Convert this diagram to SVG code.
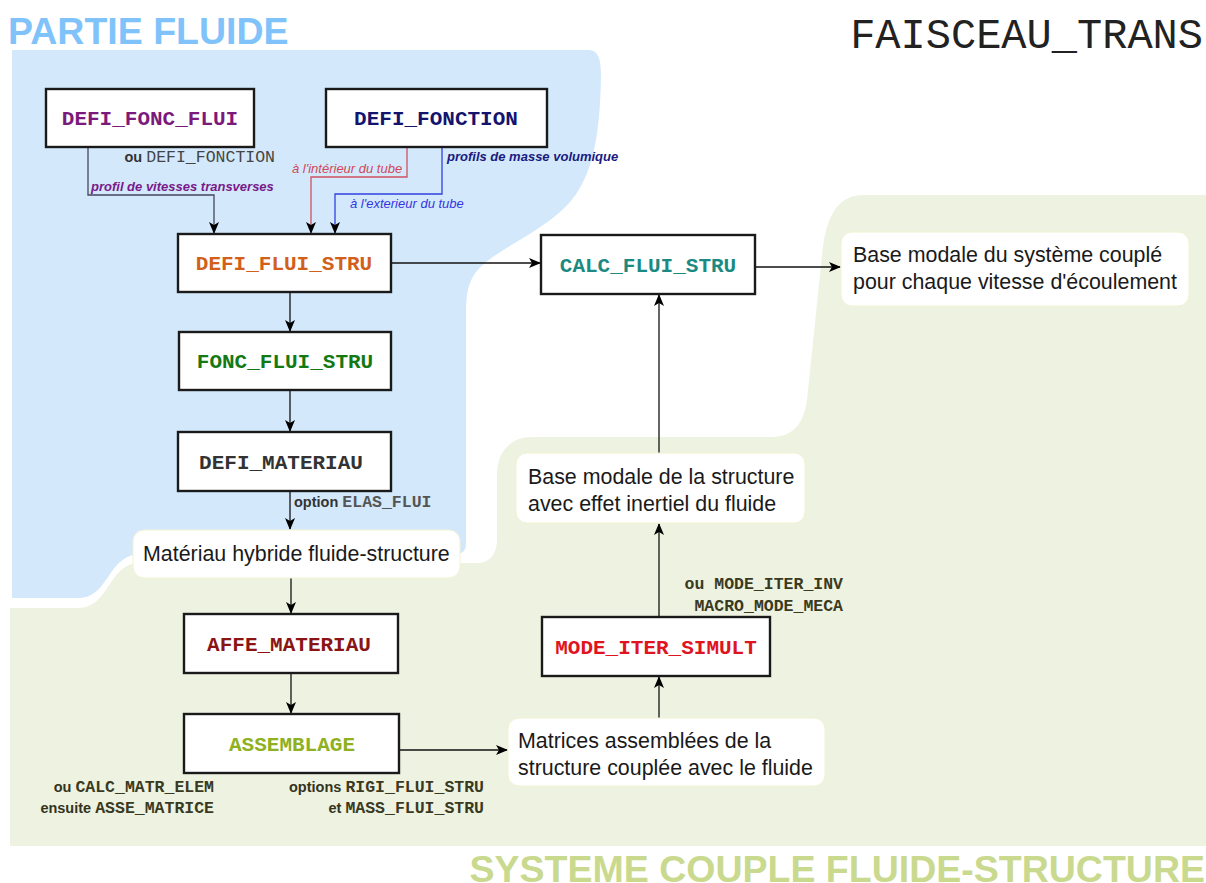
<svg xmlns="http://www.w3.org/2000/svg" width="1206" height="883" viewBox="0 0 1206 883">
  <defs>
    <marker id="arrow" viewBox="0 0 12 10" refX="11" refY="5" markerWidth="12" markerHeight="10" markerUnits="userSpaceOnUse" orient="auto">
      <path d="M0,0 L12,5 L0,10 L3,5 Z" fill="#000"/>
    </marker>
    <style>
      .box { fill: #fff; stroke: #1a1a1a; stroke-width: 2.4; }
      .note { fill: #fff; stroke: #f2f2d2; stroke-width: 1; }
      .cmd { font-family: "Liberation Mono", "Courier New", monospace; font-weight: bold; font-size: 21px; text-anchor: middle; }
      .txt { font-family: "Liberation Sans", Arial, sans-serif; font-size: 21.4px; fill: #1a1a1a; }
      .lbl { font-family: "Liberation Sans", Arial, sans-serif; font-weight: bold; font-size: 14.5px; }
      .mono { font-family: "Liberation Mono", "Courier New", monospace; font-size: 16.5px; }
      .it { font-family: "Liberation Sans", Arial, sans-serif; font-style: italic; font-size: 13px; }
      .wire { fill: none; stroke-width: 1.3; }
    </style>
  </defs>

  <rect width="1206" height="883" fill="#fff"/>

  <!-- regions -->
  <g id="zone-systeme">
    <path d="M10,608 L78,608 C110,608 108,563 140,563 L478,563 C490,563 497,553 497,540 L497,475 C497,452 510,437 532,437 L772,437 C794,437 804,422 807,400 L822,255 C826,218 836,195 864,195 L1206,195 L1206,846 L10,846 Z" fill="#eef2e1"/>
  </g>
  <g id="zone-fluide">
    <path d="M12,50 L588,50 C598,50 601,58 601,75 C600,140 592,185 560,212 C530,238 492,252 476,272 C468,283 466,295 466,312 L466,544 C466,551 462,554 455,554 L140,554 C106,556 110,598 78,598 L12,598 Z" fill="#d3e9fb"/>
  </g>

  <!-- titles -->
  <text x="8" y="44" font-family="Liberation Sans, Arial, sans-serif" font-weight="bold" font-size="37.5" fill="#7fc3fa">PARTIE FLUIDE</text>
  <text x="1203" y="48" font-family="Liberation Mono, Courier New, monospace" font-size="42" fill="#222" text-anchor="end">FAISCEAU_TRANS</text>
  <text x="1205" y="882" font-family="Liberation Sans, Arial, sans-serif" font-weight="bold" font-size="37.5" fill="#c9d98e" text-anchor="end">SYSTEME COUPLE FLUIDE-STRUCTURE</text>

  <!-- connectors -->
  <g id="connectors">
    <path class="wire" d="M88,147 V195 H214 V233" stroke="#45455a" marker-end="url(#arrow)"/>
    <path class="wire" d="M407,147 V177 H311 V233" stroke="#d05060" marker-end="url(#arrow)"/>
    <path class="wire" d="M442,147 V194 H335 V233" stroke="#3040e0" marker-end="url(#arrow)"/>
    <path class="wire" d="M391,263 H540" stroke="#111" marker-end="url(#arrow)"/>
    <path class="wire" d="M755,267 H840" stroke="#111" marker-end="url(#arrow)"/>
    <path class="wire" d="M290,292 V331" stroke="#111" marker-end="url(#arrow)"/>
    <path class="wire" d="M290,390 V431" stroke="#111" marker-end="url(#arrow)"/>
    <path class="wire" d="M290,491 V529" stroke="#111" marker-end="url(#arrow)"/>
    <path class="wire" d="M291,578 V613" stroke="#111" marker-end="url(#arrow)"/>
    <path class="wire" d="M291,673 V713" stroke="#111" marker-end="url(#arrow)"/>
    <path class="wire" d="M399,750 H507" stroke="#111" marker-end="url(#arrow)"/>
    <path class="wire" d="M659,718 V677" stroke="#111" marker-end="url(#arrow)"/>
    <path class="wire" d="M659,616 V524" stroke="#111" marker-end="url(#arrow)"/>
    <path class="wire" d="M659,453 V295" stroke="#111" marker-end="url(#arrow)"/>
  </g>

  <!-- connector labels -->
  <g id="labels">
    <text x="275" y="162" text-anchor="end"><tspan class="lbl" fill="#333">ou </tspan><tspan class="mono" fill="#444">DEFI_FONCTION</tspan></text>
    <text class="it" x="91" y="191" font-weight="bold" fill="#7a1a8a">profil de vitesses transverses</text>
    <text class="it" x="447" y="161" font-weight="bold" fill="#1a1a80">profils de masse volumique</text>
    <text class="it" x="292" y="173" fill="#d04858">à l'intérieur du tube</text>
    <text class="it" x="350" y="208" fill="#3535e0">à l'exterieur du tube</text>
    <text x="294" y="507"><tspan class="lbl" fill="#333">option </tspan><tspan class="mono" font-weight="bold" fill="#555">ELAS_FLUI</tspan></text>
    <text x="843" y="589" text-anchor="end" class="mono" font-weight="bold" fill="#3a3a1e">ou MODE_ITER_INV</text>
    <text x="843" y="611" text-anchor="end" class="mono" font-weight="bold" fill="#3a3a1e">MACRO_MODE_MECA</text>
    <text x="214" y="792" text-anchor="end"><tspan class="lbl" fill="#33331e">ou </tspan><tspan class="mono" font-weight="bold" fill="#3a3a22">CALC_MATR_ELEM</tspan></text>
    <text x="214" y="813" text-anchor="end"><tspan class="lbl" fill="#33331e">ensuite </tspan><tspan class="mono" font-weight="bold" fill="#3a3a22">ASSE_MATRICE</tspan></text>
    <text x="484" y="792" text-anchor="end"><tspan class="lbl" fill="#33331e">options </tspan><tspan class="mono" font-weight="bold" fill="#3a3a22">RIGI_FLUI_STRU</tspan></text>
    <text x="484" y="813" text-anchor="end"><tspan class="lbl" fill="#33331e">et </tspan><tspan class="mono" font-weight="bold" fill="#3a3a22">MASS_FLUI_STRU</tspan></text>
  </g>

  <!-- command boxes -->
  <g id="defi_fonc_flui">
    <rect class="box" x="46" y="89" width="208" height="58"/>
    <text class="cmd" x="150" y="125" fill="#7b1a7b">DEFI_FONC_FLUI</text>
  </g>
  <g id="defi_fonction">
    <rect class="box" x="326" y="89" width="221" height="58"/>
    <text class="cmd" x="436" y="125" fill="#14146e">DEFI_FONCTION</text>
  </g>
  <g id="defi_flui_stru">
    <rect class="box" x="178" y="234" width="213" height="58"/>
    <text class="cmd" x="284" y="270" fill="#d2601a">DEFI_FLUI_STRU</text>
  </g>
  <g id="calc_flui_stru">
    <rect class="box" x="541" y="235" width="214" height="59"/>
    <text class="cmd" x="648" y="272" fill="#1a8a82">CALC_FLUI_STRU</text>
  </g>
  <g id="fonc_flui_stru">
    <rect class="box" x="179" y="332" width="212" height="58"/>
    <text class="cmd" x="285" y="368" fill="#137a13">FONC_FLUI_STRU</text>
  </g>
  <g id="defi_materiau">
    <rect class="box" x="178" y="432" width="213" height="59"/>
    <text class="cmd" x="281" y="469" fill="#333">DEFI_MATERIAU</text>
  </g>
  <g id="affe_materiau">
    <rect class="box" x="184" y="614" width="214" height="59"/>
    <text class="cmd" x="289" y="651" fill="#8a1414">AFFE_MATERIAU</text>
  </g>
  <g id="assemblage">
    <rect class="box" x="184" y="714" width="215" height="59"/>
    <text class="cmd" x="292" y="751" fill="#8fb020">ASSEMBLAGE</text>
  </g>
  <g id="mode_iter_simult">
    <rect class="box" x="542" y="617" width="228" height="59"/>
    <text class="cmd" x="656" y="654" fill="#e0141e">MODE_ITER_SIMULT</text>
  </g>

  <!-- result notes -->
  <g id="base_couplee">
    <rect class="note" x="841" y="232" width="348" height="74" rx="11"/>
    <text class="txt" x="853" y="262">Base modale du système couplé</text>
    <text class="txt" x="853" y="289">pour chaque vitesse d'écoulement</text>
  </g>
  <g id="base_structure">
    <rect class="note" x="516" y="453" width="289" height="70" rx="11"/>
    <text class="txt" x="528" y="484">Base modale de la structure</text>
    <text class="txt" x="528" y="511">avec effet inertiel du fluide</text>
  </g>
  <g id="materiau_hybride">
    <rect class="note" x="133" y="530" width="327" height="48" rx="11"/>
    <text class="txt" x="143" y="561">Matériau hybride fluide-structure</text>
  </g>
  <g id="matrices">
    <rect class="note" x="508" y="718" width="317" height="68" rx="11"/>
    <text class="txt" x="518" y="748">Matrices assemblées de la</text>
    <text class="txt" x="518" y="775">structure couplée avec le fluide</text>
  </g>
</svg>
